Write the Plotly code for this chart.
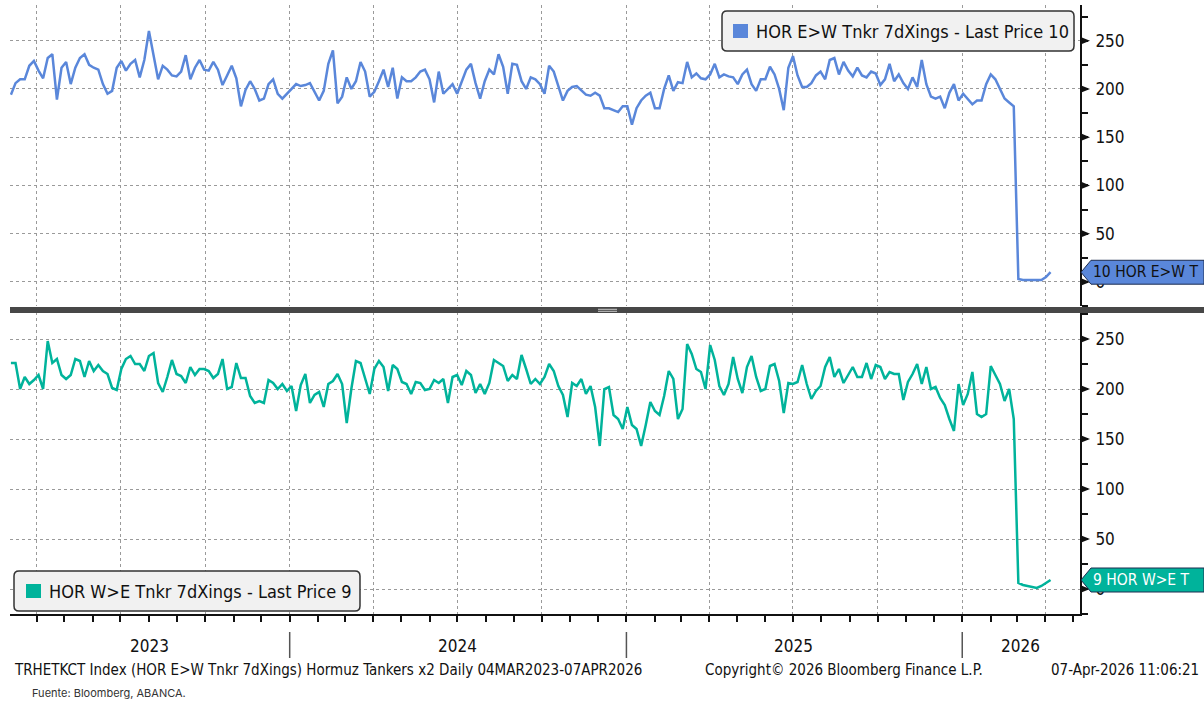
import pandas as pd
import plotly.graph_objects as go
from plotly.subplots import make_subplots

W, H = 1204, 702

# 7-day crossings, sampled every 5 days from 04-Mar-2023 to 07-Apr-2026
dates = pd.date_range("2023-03-04", periods=227, freq="5D")

hor_ew = [
    194, 206, 210, 210, 224, 229, 219, 211, 232, 236,
    189, 222, 228, 205, 222, 232, 236, 225, 222, 220,
    205, 195, 198, 222, 229, 219, 226, 230, 212, 230,
    260, 236, 210, 224, 220, 214, 213, 218, 235, 210,
    222, 230, 220, 219, 228, 220, 204, 214, 224, 211,
    182, 199, 208, 200, 188, 190, 205, 210, 195, 190,
    195, 200, 205, 203, 204, 206, 197, 188, 198, 226,
    240, 185, 192, 212, 200, 208, 228, 218, 192, 197,
    208, 220, 202, 222, 190, 212, 208, 208, 212, 218,
    220, 210, 186, 218, 195, 200, 205, 195, 208, 220,
    226, 206, 190, 208, 220, 215, 236, 223, 195, 226,
    225, 208, 200, 212, 210, 205, 195,
    224, 218, 202, 188, 198, 202, 203, 198, 194, 193,
    196, 193, 180, 180, 178, 176, 182, 182, 163, 180,
    188, 193, 196, 180, 180, 200, 214, 198, 207, 206,
    228, 212, 216, 211, 210, 215, 226, 212, 215, 213,
    212, 205, 215, 220, 205, 198, 210, 210, 223, 215,
    200, 178, 222, 234, 214, 202, 202, 206, 214, 218,
    210, 230, 232, 215, 228, 219, 213, 222, 214, 212,
    218, 216, 204, 210, 226, 208, 215, 206, 200, 212,
    202, 230, 205, 192, 190, 192, 180, 196, 205, 188,
    195, 189, 184, 188, 188, 205, 215, 210, 200, 190,
    186, 182, 3, 2, 2, 2, 2, 2, 5, 10,
]

hor_we = [
    226, 226, 200, 212, 205, 209, 214, 200, 248, 226,
    230, 214, 210, 214, 230, 228, 212, 228, 218, 224,
    218, 215, 201, 199, 220, 230, 233, 225, 225, 218,
    233, 236, 206, 197, 212, 229, 215, 213, 206, 222,
    214, 220, 220, 218, 211, 215, 230, 200, 202, 226,
    211, 211, 193, 186, 188, 186, 209, 206, 200, 205,
    198, 203, 178, 204, 215, 186, 194, 197, 182, 205,
    208, 215, 205, 166, 200, 228, 226, 210, 195, 220,
    228, 222, 198, 224, 220, 207, 205, 195, 207, 206,
    199, 200, 209, 206, 210, 186, 212, 214, 204, 218,
    214, 196, 205, 195, 206, 229, 226, 223, 208, 214,
    210, 234, 220, 205, 210, 205, 212,
    225, 218, 203, 194, 172, 206, 203, 210, 195, 203,
    182, 143, 200, 202, 174, 170, 160, 182, 164, 160,
    143, 164, 187, 178, 174, 193, 218, 210, 170, 180,
    245, 235, 220, 217, 200, 244, 229, 203, 194, 205,
    232, 210, 196, 222, 233, 212, 198, 200, 223, 225,
    208, 176, 206, 205, 207, 224, 205, 190, 198, 203,
    222, 232, 212, 220, 206, 214, 222, 212, 212, 226,
    210, 224, 222, 210, 217, 215, 215, 189, 207, 215,
    225, 205, 222, 200, 202, 191, 184, 170, 158, 205,
    184, 195, 217, 175, 172, 175, 223, 214, 205, 188,
    200, 170, 6, 4, 3, 2, 1, 3, 6, 9,
]

ew_legend = "HOR E&gt;W Tnkr 7dXings - Last Price 10"
we_legend = "HOR W&gt;E Tnkr 7dXings - Last Price 9"
ew_tag = "10 HOR E&gt;W T"
we_tag = "9 HOR W&gt;E T"

y_ticks = [0, 50, 100, 150, 200, 250]
year_labels = ["2023", "2024", "2025", "2026"]
year_label_dates = ["2023-08-02", "2024-07-01", "2025-07-02", "2026-03-05"]
year_breaks = ["2024-01-01", "2025-01-01", "2026-01-01"]

BLUE = "#5a87da"
TEAL = "#00b39b"
GRID = "#9a9a9a"
INK = "#111111"
FONT = "DejaVu Sans Condensed, Liberation Sans Narrow, DejaVu Sans, sans-serif"


def px(x):
    return x / W


def py(y):
    return 1 - y / H


def rounded_box(x0, y0, x1, y1, r):
    pts = [
        ("M", x0 + r, y0), ("L", x1 - r, y0), ("Q", x1, y0), ("", x1, y0 + r),
        ("L", x1, y1 - r), ("Q", x1, y1), ("", x1 - r, y1),
        ("L", x0 + r, y1), ("Q", x0, y1), ("", x0, y1 - r),
        ("L", x0, y0 + r), ("Q", x0, y0), ("", x0 + r, y0),
    ]
    return " ".join(f"{c} {px(a):.5f},{py(b):.5f}" for c, a, b in pts) + " Z"


fig = make_subplots(rows=2, cols=1, shared_xaxes=True)
fig.add_trace(go.Scatter(x=dates, y=hor_ew, mode="lines",
                         line=dict(color=BLUE, width=2.5), showlegend=False), row=1, col=1)
fig.add_trace(go.Scatter(x=dates, y=hor_we, mode="lines",
                         line=dict(color=TEAL, width=2.5), showlegend=False), row=2, col=1)

x_range = ["2023-03-03", "2026-05-09"]
common_x = dict(
    domain=[px(10), px(1080)], range=x_range, dtick="M3", tick0="2023-01-01",
    showgrid=True, gridcolor=GRID, griddash="dot", gridwidth=1,
    zeroline=False, showticklabels=False,
)
common_y = dict(
    side="right", tickvals=y_ticks, showgrid=True, gridcolor=GRID, griddash="dot",
    zeroline=False, showline=True, linecolor=INK, linewidth=2,
    ticks="outside", ticklen=10, tickcolor="rgba(0,0,0,0)",
    tickfont=dict(family=FONT, size=17, color=INK),
    minor=dict(dtick=25, tick0=25, ticks="outside", ticklen=6,
               tickcolor=INK, tickwidth=1.5, showgrid=False),
)

fig.update_layout(
    width=W, height=H,
    margin=dict(l=0, r=0, t=0, b=0),
    paper_bgcolor="white", plot_bgcolor="white",
    font=dict(family=FONT, color=INK),
    xaxis=dict(**common_x, ticks="", showline=False),
    xaxis2=dict(**common_x, showline=True, linecolor=INK, linewidth=2,
                ticks="outside", ticklen=6, tickcolor=INK, tickwidth=1.5,
                minor=dict(dtick="M1", tick0="2023-01-01", ticks="outside",
                           ticklen=6, tickcolor=INK, tickwidth=1.5)),
    yaxis=dict(**common_y, domain=[py(306), py(5)], range=[-25, 287]),
    yaxis2=dict(**common_y, domain=[py(614), py(312)], range=[-25, 277]),
)

shapes = []

# tick arrows on the right axis
for yref, half in (("y", 4.2), ("y2", 4.0)):
    for v in y_ticks:
        shapes.append(dict(
            type="path", xref="paper", yref=yref,
            path=f"M {px(1080)},{v + half} L {px(1090)},{v} L {px(1080)},{v - half} Z",
            fillcolor=INK, line=dict(width=0),
        ))

# divider between panels
shapes.append(dict(type="rect", xref="paper", yref="paper",
                   x0=px(10), x1=1, y0=py(313), y1=py(307),
                   fillcolor="#474747", line=dict(width=0)))
for yy in (309.3, 311.3):
    shapes.append(dict(type="line", xref="paper", yref="paper",
                       x0=px(598), x1=px(617), y0=py(yy), y1=py(yy),
                       line=dict(color="#c8c8c8", width=1)))

# legend boxes
shapes.append(dict(type="path", xref="paper", yref="paper",
                   path=rounded_box(722, 11, 1074, 51, 5),
                   fillcolor="#f1f1f1", line=dict(color="#333333", width=1.5)))
shapes.append(dict(type="rect", xref="paper", yref="paper",
                   x0=px(733), x1=px(748), y0=py(38), y1=py(24),
                   fillcolor=BLUE, line=dict(width=0)))
shapes.append(dict(type="path", xref="paper", yref="paper",
                   path=rounded_box(14, 571, 360, 611, 5),
                   fillcolor="#f1f1f1", line=dict(color="#333333", width=1.5)))
shapes.append(dict(type="rect", xref="paper", yref="paper",
                   x0=px(26), x1=px(41), y0=py(598), y1=py(584),
                   fillcolor=TEAL, line=dict(width=0)))

# last-price tags
for yref, last, half, color in (("y", hor_ew[-1], 12.4, BLUE), ("y2", hor_we[-1], 12.0, TEAL)):
    shapes.append(dict(
        type="path", xref="paper", yref=yref,
        path=(f"M {px(1081)},{last} L {px(1091)},{last + half} L 1,{last + half} "
              f"L 1,{last - half} L {px(1091)},{last - half} Z"),
        fillcolor=color, line=dict(color="#1c2c50", width=1),
    ))

# year separators
for d in year_breaks:
    shapes.append(dict(type="line", xref="x2", yref="paper",
                       x0=d, x1=d, y0=py(658), y1=py(632),
                       line=dict(color="#555555", width=1.5)))

fig.update_layout(shapes=shapes)

ann = []
ann.append(dict(text=ew_legend, xref="paper", yref="paper", x=px(754), y=py(31.5),
                xanchor="left", yanchor="middle", showarrow=False,
                font=dict(family=FONT, size=18, color=INK)))
ann.append(dict(text=we_legend, xref="paper", yref="paper", x=px(47), y=py(591.5),
                xanchor="left", yanchor="middle", showarrow=False,
                font=dict(family=FONT, size=18, color=INK)))
ann.append(dict(text=ew_tag, xref="paper", yref="y", x=px(1091), y=hor_ew[-1],
                xanchor="left", yanchor="middle", showarrow=False,
                font=dict(family=FONT, size=15.5, color=INK)))
ann.append(dict(text=we_tag, xref="paper", yref="y2", x=px(1091), y=hor_we[-1],
                xanchor="left", yanchor="middle", showarrow=False,
                font=dict(family=FONT, size=15.5, color="white")))

for lab, d in zip(year_labels, year_label_dates):
    ann.append(dict(text=lab, xref="x2", yref="paper", x=d, y=py(646),
                    xanchor="center", yanchor="middle", showarrow=False,
                    font=dict(family=FONT, size=17, color=INK)))

ann.append(dict(text="TRHETKCT Index (HOR E&gt;W Tnkr 7dXings) Hormuz Tankers x2 Daily 04MAR2023-07APR2026",
                xref="paper", yref="paper", x=px(12), y=py(670), xanchor="left", yanchor="middle",
                showarrow=False, font=dict(family=FONT, size=15, color=INK)))
ann.append(dict(text="Copyright© 2026 Bloomberg Finance L.P.",
                xref="paper", yref="paper", x=px(703), y=py(670), xanchor="left", yanchor="middle",
                showarrow=False, font=dict(family=FONT, size=15, color=INK)))
ann.append(dict(text="07-Apr-2026 11:06:21",
                xref="paper", yref="paper", x=px(1201), y=py(670), xanchor="right", yanchor="middle",
                showarrow=False, font=dict(family=FONT, size=15, color=INK)))
ann.append(dict(text="Fuente: Bloomberg, ABANCA.",
                xref="paper", yref="paper", x=px(30), y=py(693), xanchor="left", yanchor="middle",
                showarrow=False, font=dict(family="Inter, Lato, sans-serif", size=11, color="#333333")))

fig.update_layout(annotations=ann)

fig.write_html("out.html", config={"displayModeBar": False},
               post_script="document.body.style.margin = '0';")
